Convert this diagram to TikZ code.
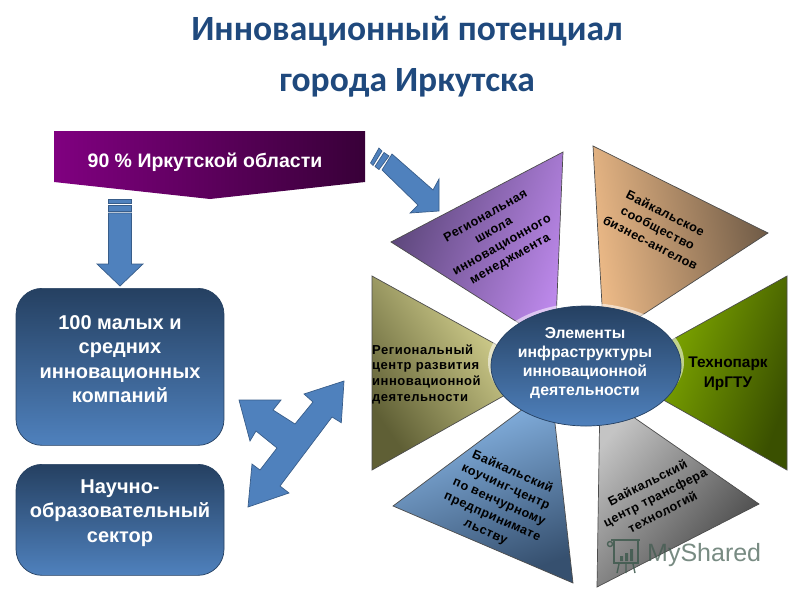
\documentclass[tikz,border=0pt]{standalone}
\usepackage{fontspec}
\setmainfont{Liberation Sans}
\newfontfamily\titlefont{Carlito}
\newfontfamily\lblfont[LetterSpace=4]{Liberation Sans}
\usetikzlibrary{shapes.geometric}
\definecolor{titleblue}{HTML}{1F497D}
\definecolor{navy}{HTML}{254061}
\definecolor{steel}{HTML}{4F81BD}
\definecolor{edgeblue}{HTML}{385D8A}
\definecolor{bandL}{HTML}{800080}
\definecolor{bandR}{HTML}{380038}
\definecolor{purpL}{HTML}{5A4578}
\definecolor{purpR}{HTML}{BC88EA}
\definecolor{brownL}{HTML}{EEBB88}
\definecolor{brownR}{HTML}{6E5A46}
\definecolor{greenL}{HTML}{95C400}
\definecolor{greenR}{HTML}{3A5000}
\definecolor{yelD}{HTML}{5F5F35}
\definecolor{yelL}{HTML}{F0ECA4}
\definecolor{bluT}{HTML}{90C0F2}
\definecolor{bluB}{HTML}{36506F}
\definecolor{gryT}{HTML}{C4C4C4}
\definecolor{gryB}{HTML}{444444}
\definecolor{wmark}{HTML}{3F5A4E}
\tikzset{
  x=1pt,y=-1pt,
  wedge/.style={draw=black!70,line width=0.7pt},
  blockbox/.style={shape=rectangle,rounded corners=26pt,draw=navy,line width=0.7pt,top color=navy,bottom color=steel,minimum width=208pt,inner sep=0pt},
  arrowshape/.style={fill=steel,draw=edgeblue,line width=0.7pt},
  boxtext/.style={font=\bfseries\fontsize{20}{24.3}\selectfont,align=center,text=white,inner sep=0pt},
  lbl/.style={font=\lblfont\bfseries\fontsize{12.6}{16.5}\selectfont,align=center,text=black,inner sep=0pt},
  hubtext/.style={font=\bfseries\fontsize{15.8}{18.7}\selectfont,align=center,text=white,inner sep=0pt},
  titletext/.style={font=\titlefont\bfseries\fontsize{35.5}{37}\selectfont,text=titleblue,inner sep=0pt}
}
\begin{document}
\begin{tikzpicture}
\useasboundingbox (0,0) rectangle (800,600);
\fill[white] (0,0) rectangle (800,600);
\node[titletext] (t1) at (407,31) {Инновационный потенциал};
\node[titletext] (t2) at (407,83) {города Иркутска};

% band
\shade[left color=bandL,right color=bandR]
  (54,131) -- (365,131) -- (365,182) -- (210,199) -- (54,182) -- cycle;
\node[font=\bfseries\fontsize{19.5}{22}\selectfont,text=white,inner sep=0pt] (band) at (205,162) {90 \% Иркутской области};

% down arrow
\filldraw[arrowshape] (108.5,199) rectangle (131.5,203);
\filldraw[arrowshape] (108.5,205) rectangle (131.5,211);
\filldraw[arrowshape] (108.5,213) -- (131.5,213) -- (131.5,264) -- (143,264) -- (120,286) -- (97,264) -- (108.5,264) -- cycle;

% diagonal arrow
\filldraw[arrowshape] (379,148) -- (382,151) -- (373,165.5) -- (370.5,163) -- cycle;
\filldraw[arrowshape] (384,152.5) -- (389,156) -- (379,169.5) -- (375,166.5) -- cycle;
\filldraw[arrowshape] (392,154) -- (433,190) -- (439,179) -- (439,211) -- (410,213) -- (418,205) -- (382,170) -- cycle;

% three way arrow
\filldraw[arrowshape] (344,381) -- (341.3,422.7) -- (332,417) -- (280,486) -- (289,493) -- (248,507) -- (252,464) -- (260,470) -- (277,448) -- (256,431) -- (250,441) -- (239,400) -- (281,400) -- (273,410) -- (295,424) -- (313,402) -- (304,394) -- cycle;

% boxes
\node[blockbox,minimum height=157pt,anchor=north] (b1) at (120,288) {};
\node[boxtext] (b1t) at (120,359) {100 малых и\\средних\\инновационных\\компаний};
\node[blockbox,minimum height=111pt,anchor=north] (b2) at (120,464) {};
\node[boxtext] (b2t) at (120,513) {Научно-\\образовательный\\сектор};

% wedges
\shade[wedge,left color=purpL,right color=purpR,shading angle=70]
  (563,152) -- (391,242) -- (555,346) -- cycle;
\shade[wedge,left color=brownL,right color=brownR,shading angle=100]
  (593,146) -- (768,233) -- (604,340) -- cycle;
\shade[wedge,left color=greenL,right color=greenR,shading angle=70]
  (787,276) -- (787,470) -- (614,372) -- cycle;
\shade[wedge,left color=yelD,right color=yelL,shading angle=125]
  (372,276) -- (546,372) -- (372,470) -- cycle;
\shade[wedge,left color=bluT,right color=bluB,shading angle=20]
  (551,388) -- (573,583) -- (393,506) -- cycle;
\shade[wedge,left color=gryT,right color=gryB,shading angle=50]
  (600,394) -- (759,504) -- (597,587) -- cycle;

% halo and hub
\fill[white,opacity=0.55] (586,362) ellipse (98 and 59);
\node[shape=ellipse,draw=navy,line width=0.7pt,top color=navy,bottom color=steel,minimum width=190pt,minimum height=120pt,inner sep=0pt] (hub) at (586,366) {};
\node[hubtext] (hubt) at (585,363) {Элементы\\инфраструктуры\\инновационной\\деятельности};

% wedge labels
\node[lbl,rotate=29.5] (l1) at (498,238) {Региональная\\школа\\инновационного\\менеджмента};
\node[lbl,rotate=-27] (l2) at (658,228) {Байкальское\\сообщество\\бизнес-ангелов};
\node[font=\bfseries\fontsize{15.4}{19.5}\selectfont,align=center,text=black,inner sep=0pt] (l3) at (728,374) {Технопарк\\ИрГТУ};
\node[lbl,align=left,anchor=west,font=\lblfont\bfseries\fontsize{13}{15.7}\selectfont] (l4) at (372,374) {Региональный\\центр развития\\инновационной\\деятельности};
\node[lbl,rotate=-24] (l5) at (499,502) {Байкальский\\коучинг-центр\\по венчурному\\предпринимате\\льству};
\node[lbl,rotate=27] (l6) at (655,497) {Байкальский\\центр трансфера\\технологий};

% watermark
\begin{scope}[draw=wmark,line width=1.4pt,opacity=0.85]
  \draw (611,540) -- (640,540);
  \draw (614,541) -- (614,563) -- (638,563) -- (638,541);
  \draw (610,544) circle (2.5);
  \draw (619,564) -- (617,573) (626,564) -- (626,573) (633,564) -- (635,573);
  \fill[wmark] (620,556) rectangle (623,561) (625,553) rectangle (628,561) (630,549) rectangle (633,561);
\end{scope}
\node[font=\fontsize{25}{25}\selectfont,text=wmark,opacity=0.7,inner sep=0pt,anchor=west] (wm) at (647,555) {MyShared};
\end{tikzpicture}
\end{document}
